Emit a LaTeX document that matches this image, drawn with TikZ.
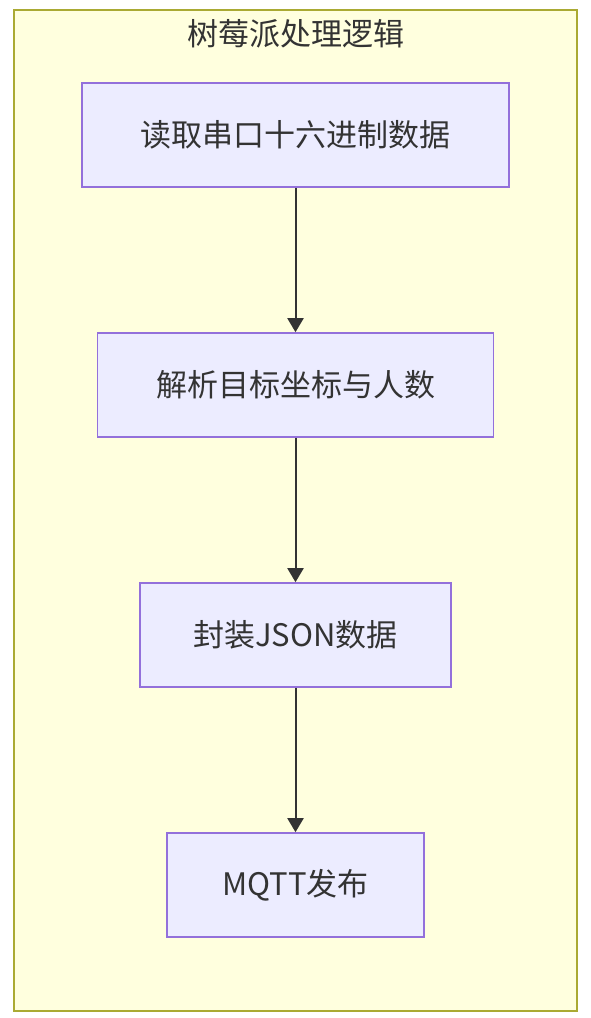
\documentclass[tikz,border=0pt]{standalone}
\usepackage{fontspec}
\setmainfont{Noto Sans CJK SC}
\usetikzlibrary{arrows.meta}
\definecolor{clusterfill}{HTML}{FFFFDE}
\definecolor{clusterline}{HTML}{AAAA33}
\definecolor{boxfill}{HTML}{ECECFF}
\definecolor{boxline}{HTML}{9370DB}
\definecolor{txt}{HTML}{333333}
\tikzset{
  x=1pt,y=1pt,
  stepbox/.style={draw=boxline, fill=boxfill, line width=1.6pt, inner sep=0pt,
    minimum height=104pt, text=txt, font=\fontsize{31}{37}\selectfont},
  flow/.style={draw=txt, line width=2pt, -{Triangle[length=14pt,width=16pt]}}
}
\begin{document}
\begin{tikzpicture}
\useasboundingbox (0,0) rectangle (590,-1018);
\node[draw=clusterline, fill=clusterfill, line width=1.8pt, inner sep=0pt,
  minimum width=563pt, minimum height=1001pt] (cluster) at (295.5,-510.5) {};
\node[text=txt, font=\fontsize{31}{37}\selectfont] (title) at (295.5,-34) {树莓派处理逻辑};
\node[stepbox, minimum width=427pt] (a) at (295.5,-135) {读取串口十六进制数据};
\node[stepbox, minimum width=396pt] (b) at (295.5,-385) {解析目标坐标与人数};
\node[stepbox, minimum width=311pt] (c) at (295.5,-635) {封装JSON数据};
\node[stepbox, minimum width=257pt] (d) at (295.5,-885) {MQTT发布};
\draw[flow] (a) -- (b);
\draw[flow] (b) -- (c);
\draw[flow] (c) -- (d);
\end{tikzpicture}
\end{document}
